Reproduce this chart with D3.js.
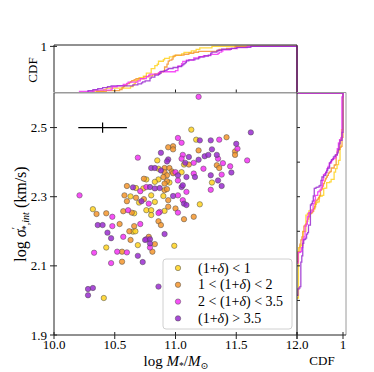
<!DOCTYPE html>
<html><head><meta charset="utf-8">
<script src="https://cdn.jsdelivr.net/npm/d3@7"></script>
<style>body{margin:0;background:#fff}svg{display:block;font-family:"Liberation Serif","DejaVu Serif",serif}</style>
</head><body><svg id="c" width="374" height="372"></svg>
<script>
// ---- data ----
const groupLabels = ["(1+δ) < 1", "1 < (1+δ) < 2", "2 < (1+δ) < 3.5", "(1+δ) > 3.5"];
const massY = [11.13,11.17,10.85,11.07,10.86,11.05,10.76,10.86,10.83,10.95,11.30,10.80,10.90,10.83,11.20,10.76,10.80,10.32,10.675,10.63,10.735,10.70,10.66,10.80,10.91,10.99,10.65,10.67,10.69,10.43,10.41];
const sigY  = [2.494,2.465,2.405,2.393,2.381,2.371,2.350,2.350,2.343,2.341,2.341,2.304,2.302,2.285,2.278,2.261,2.261,2.264,2.325,2.301,2.324,2.283,2.252,2.247,2.259,2.158,2.199,2.200,2.160,2.153,2.007];
const massO = [10.94,10.98,10.98,11.19,11.11,10.91,10.95,10.97,10.98,10.91,10.93,10.90,11.34,11.36,10.93,10.91,10.91,10.93,10.94,10.94,11.00,11.42,11.49,11.49,11.15,11.07,10.86,10.88,10.78,10.83,10.81,10.74,10.60,10.58,10.675,10.74,10.60,10.57,10.64,10.43,10.35,10.54,10.66,10.62,10.63,10.56,10.56];
const sigO  = [2.443,2.446,2.437,2.434,2.393,2.383,2.383,2.373,2.368,2.371,2.362,2.357,2.391,2.383,2.345,2.338,2.319,2.322,2.290,2.271,2.266,2.472,2.431,2.421,2.242,2.235,2.229,2.218,2.184,2.163,2.141,2.352,2.331,2.304,2.297,2.293,2.287,2.258,2.254,2.252,2.250,2.221,2.215,2.200,2.175,2.141,2.112];
const massM = [11.02,11.05,11.36,11.06,11.05,11.15,11.35,11.00,11.23,11.15,11.38,11.02,10.76,11.02,11.09,11.06,10.78,10.87,11.02,11.51,11.59,11.39,11.45,11.29,11.19,10.69,10.21,10.71,10.61,10.48,10.86,10.76,10.79,10.48,10.71,10.57,10.52,10.60,10.33,10.47];
const sigM  = [2.470,2.456,2.465,2.421,2.410,2.398,2.410,2.371,2.381,2.367,2.364,2.347,2.328,2.304,2.314,2.290,2.280,2.256,2.254,2.439,2.405,2.397,2.388,2.320,2.589,2.413,2.304,2.316,2.261,2.242,2.253,2.177,2.153,2.215,2.221,2.184,2.141,2.139,2.138,2.108];
const massP = [11.20,11.29,10.88,11.30,11.11,10.94,10.93,11.19,11.24,11.27,11.34,11.08,10.80,10.83,10.88,11.02,11.09,11.16,11.29,11.35,11.05,11.06,10.79,10.83,10.87,10.98,11.07,11.09,11.62,11.50,11.46,11.38,10.65,10.72,10.91,10.79,10.79,10.86,10.36,10.40,10.44,10.47,10.69,10.73,10.28,10.32,10.28,10.75];
const sigP  = [2.463,2.463,2.427,2.437,2.415,2.408,2.402,2.407,2.417,2.421,2.421,2.398,2.383,2.383,2.376,2.362,2.357,2.357,2.362,2.347,2.328,2.333,2.328,2.324,2.325,2.302,2.280,2.276,2.486,2.453,2.370,2.331,2.327,2.287,2.192,2.177,2.165,2.040,2.218,2.218,2.196,2.180,2.129,2.111,2.033,2.036,2.015,2.175];
const errPoint = {x: 10.4, y: 2.5, xerr: 0.2, yerr: 0.015};
const xTicks = [10.0, 10.5, 11.0, 11.5, 12.0];
const yTicks = [1.9, 2.1, 2.3, 2.5];
const rightYTicks = [2.0, 2.1, 2.2, 2.3, 2.4, 2.5];
const topXTicks = [10.5, 11.0, 11.5];

const colors = ["#ffd21f", "#f5952c", "#f531f5", "#9a2bd0"];
const groups = [[massY, sigY], [massO, sigO], [massM, sigM], [massP, sigP]];

// ---- layout ----
const svg = d3.select("#c");
const L = 54, R = 297, T = 93, B = 335;
const topT = 45, topB = 92.5;
const rR = 346;
const x = d3.scaleLinear().domain([10, 12]).range([L, R]);
const y = d3.scaleLinear().domain([1.9, 2.6]).range([B, T]);
const yTop = d3.scaleLinear().domain([0, 1.03]).range([topB, topT]);
const xRight = d3.scaleLinear().domain([0, 1.065]).range([R, rR]);

const dark = "#222", grey = "#9a9a9a";
function line(x1, y1, x2, y2, c, w) {
  svg.append("line").attr("x1", x1).attr("y1", y1).attr("x2", x2).attr("y2", y2)
    .attr("stroke", c).attr("stroke-width", w || 1);
}

// ---- CDF curves ----
const stepTop = (vals) => {
  const s = vals.slice().sort(d3.ascending), n = s.length;
  const pts = [[s[0], 0]];
  s.forEach((v, i) => { pts.push([v, i / n]); pts.push([v, (i + 1) / n]); });
  pts.push([12, 1]); pts.push([12, 0]);
  return d3.line().x(d => x(d[0])).y(d => yTop(d[1]))(pts);
};
const stepRight = (vals) => {
  const s = vals.slice().sort(d3.ascending), n = s.length;
  const pts = [[0, s[0]]];
  s.forEach((v, i) => { pts.push([i / n, v]); pts.push([(i + 1) / n, v]); });
  pts.push([1, 2.6]); pts.push([0, 2.6]);
  return d3.line().x(d => xRight(d[0])).y(d => y(d[1]))(pts);
};
groups.forEach((g, i) => {
  svg.append("path").attr("d", stepTop(g[0])).attr("fill", "none")
    .attr("stroke", colors[i]).attr("stroke-width", 1.3).attr("stroke-opacity", 0.85);
  svg.append("path").attr("d", stepRight(g[1])).attr("fill", "none")
    .attr("stroke", colors[i]).attr("stroke-width", 1.3).attr("stroke-opacity", 0.85);
});

// ---- scatter ----
groups.forEach((g, i) => {
  svg.append("g").selectAll("circle").data(g[0].map((m, k) => [m, g[1][k]])).join("circle")
    .attr("cx", d => x(d[0])).attr("cy", d => y(d[1])).attr("r", 2.7)
    .attr("fill", colors[i]).attr("fill-opacity", 0.85)
    .attr("stroke", "#4a4a4a").attr("stroke-width", 0.5);
});

// ---- error bar ----
line(x(errPoint.x - errPoint.xerr), y(errPoint.y), x(errPoint.x + errPoint.xerr), y(errPoint.y), "#000", 1.2);
line(x(errPoint.x), y(errPoint.y - errPoint.yerr), x(errPoint.x), y(errPoint.y + errPoint.yerr), "#000", 1.2);

// ---- frames ----
line(L, topT, R, topT, dark); line(L, topT, L, topB, dark); line(R, topT, R, topB, dark);
line(L, topB, R, topB, grey);
line(L, T, R, T, grey);
line(L, T, L, B, dark); line(L, B, R, B, dark); line(R, T - 1, R, B, dark);
line(R, T - 0.5, rR, T - 0.5, grey); line(rR, T - 0.5, rR, B, grey); line(R, B, rR, B, dark);

// ---- ticks ----
xTicks.forEach(t => line(x(t), B - 3, x(t), B + 4, dark));
yTicks.forEach(t => line(L - 4, y(t), L + 3, y(t), dark));
topXTicks.forEach(t => line(x(t), topB, x(t), topB - 3, dark));
line(L - 4, yTop(1), L + 3, yTop(1), dark);
rightYTicks.forEach(t => line(R, y(t), R + 3, y(t), dark));
[0, 1].forEach(t => line(xRight(t), B - 3, xRight(t), B + 4, dark));

const fs = 13;
svg.append("g").selectAll("text").data(xTicks).join("text")
  .attr("x", d => x(d)).attr("y", 349).attr("text-anchor", "middle")
  .attr("font-size", fs).text(d => d.toFixed(1));
svg.append("g").selectAll("text").data(yTicks).join("text")
  .attr("x", 47).attr("y", d => y(d) + 4.5).attr("text-anchor", "end")
  .attr("font-size", fs).text(d => d.toFixed(1));
svg.append("text").attr("x", 47).attr("y", yTop(1) + 4.5).attr("text-anchor", "end")
  .attr("font-size", fs).text("1");
svg.append("text").attr("x", xRight(1)).attr("y", 349).attr("text-anchor", "middle")
  .attr("font-size", fs).text("1");

// ---- axis titles ----
svg.append("text").attr("transform", "translate(37,70) rotate(-90)").attr("text-anchor", "middle")
  .attr("font-size", 13).text("CDF");
svg.append("text").attr("x", 322).attr("y", 365).attr("text-anchor", "middle")
  .attr("font-size", 13).text("CDF");

const xt = svg.append("text").attr("x", 176).attr("y", 365.5).attr("text-anchor", "middle").attr("font-size", 15);
xt.append("tspan").text("log ");
xt.append("tspan").attr("font-style", "italic").text("M");
xt.append("tspan").attr("font-size", 9.5).attr("dy", 3).text("*");
xt.append("tspan").attr("dy", -3).text("/");
xt.append("tspan").attr("font-style", "italic").text("M");
xt.append("tspan").attr("font-size", 9.5).attr("dy", 3).text("⊙");

const yt = svg.append("text").attr("transform", "translate(26,214) rotate(-90)").attr("text-anchor", "middle").attr("font-size", 16);
yt.append("tspan").text("log ");
yt.append("tspan").attr("font-style", "italic").text("σ");
yt.append("tspan").attr("font-size", 10).attr("dy", -7).text("′");
yt.append("tspan").attr("font-size", 10).attr("dx", -3).attr("dy", 10).text("*,");
yt.append("tspan").attr("font-size", 10).attr("font-style", "italic").text("int");
yt.append("tspan").attr("dy", -3).text(" (km/s)");

// ---- legend ----
const lg = svg.append("g");
lg.append("rect").attr("x", 163).attr("y", 259).attr("width", 129).attr("height", 70).attr("rx", 3)
  .attr("fill", "#fff").attr("fill-opacity", 0.85).attr("stroke", "#d0d0d0").attr("stroke-width", 1);
groupLabels.forEach((lab, i) => {
  const cy = 268 + i * 16.8;
  lg.append("circle").attr("cx", 178).attr("cy", cy).attr("r", 2.7)
    .attr("fill", colors[i]).attr("fill-opacity", 0.85).attr("stroke", "#4a4a4a").attr("stroke-width", 0.5);
  const t = lg.append("text").attr("x", 198).attr("y", cy + 4.5).attr("font-size", 14);
  const parts = lab.split("δ");
  t.append("tspan").text(parts[0]);
  t.append("tspan").attr("font-style", "italic").text("δ");
  t.append("tspan").text(parts[1]);
});
</script></body></html>
